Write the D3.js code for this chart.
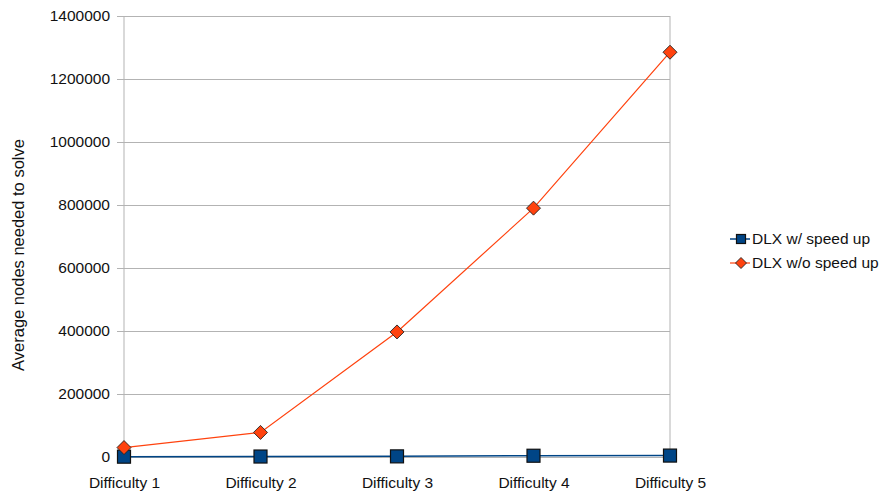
<!DOCTYPE html>
<html>
<head>
<meta charset="utf-8">
<script src="https://cdn.jsdelivr.net/npm/d3@7"></script>
<style>
  html, body { margin: 0; padding: 0; background: #fff; }
  svg { display: block; font-family: "Liberation Sans", Arial, sans-serif; }
</style>
</head>
<body>
<svg id="chart" width="885" height="494"></svg>
<script>
// Categories and series
const categories = ["Difficulty 1", "Difficulty 2", "Difficulty 3", "Difficulty 4", "Difficulty 5"];
const withSpeedUp = [1000, 1500, 2000, 4000, 4500];
const withoutSpeedUp = [30000, 78000, 397000, 790000, 1285000];
const yTicks = [0, 200000, 400000, 600000, 800000, 1000000, 1200000, 1400000];
const seriesNames = ["DLX w/ speed up", "DLX w/o speed up"];

const svg = d3.select("#chart");
const plotL = 124, plotR = 670, plotT = 16, plotB = 457;
const fontSize = 15.5;

const x = d3.scalePoint().domain(categories).range([plotL, plotR]);
const y = d3.scaleLinear().domain([0, 1400000]).range([plotB, plotT]);

const gridColor = "#b3b3b3";

// Horizontal gridlines with outward tick stubs
const yAxis = d3.axisLeft(y).tickValues(yTicks).tickFormat(d3.format("d"))
  .tickSize(-(plotR - plotL)).tickSizeOuter(0).tickPadding(14);
const gy = svg.append("g").attr("transform", `translate(${plotL},0)`).call(yAxis);
gy.select(".domain").remove();
gy.selectAll(".tick line").attr("stroke", gridColor).attr("x1", -7);
gy.selectAll(".tick text").attr("font-size", fontSize).attr("fill", "#111");

// Plot frame: left axis and right edge
svg.append("line").attr("x1", plotL).attr("x2", plotL).attr("y1", plotT).attr("y2", plotB + 6).attr("stroke", gridColor);
svg.append("line").attr("x1", plotR).attr("x2", plotR).attr("y1", plotT).attr("y2", plotB).attr("stroke", gridColor);

// Category axis
const xAxis = d3.axisBottom(x).tickSize(5).tickSizeOuter(0).tickPadding(15);
const gx = svg.append("g").attr("transform", `translate(0,${plotB})`).call(xAxis);
gx.select(".domain").attr("stroke", gridColor);
gx.selectAll(".tick line").attr("stroke", gridColor);
gx.selectAll(".tick text").attr("font-size", fontSize).attr("fill", "#111");

// Y axis title
svg.append("text")
  .attr("transform", `translate(18,255) rotate(-90)`)
  .attr("text-anchor", "middle").attr("dy", "0.35em")
  .attr("font-size", 16.5).attr("fill", "#111")
  .text("Average nodes needed to solve");

const line = d3.line().x((d, i) => x(categories[i])).y(d => y(d));

const blue = "#004586", orange = "#ff420e";

// Series without speed up (diamonds)
svg.append("path").datum(withoutSpeedUp).attr("d", line)
  .attr("fill", "none").attr("stroke", orange).attr("stroke-width", 1.2);
// Series with speed up (squares)
svg.append("path").datum(withSpeedUp).attr("d", line)
  .attr("fill", "none").attr("stroke", blue).attr("stroke-width", 1.5);

function diamond(g, cx, cy, r) {
  g.append("path")
    .attr("d", `M${cx},${cy - r}L${cx + r},${cy}L${cx},${cy + r}L${cx - r},${cy}Z`)
    .attr("fill", orange).attr("stroke", "#222").attr("stroke-width", 0.9);
}
function square(g, cx, cy, s) {
  g.append("rect").attr("x", cx - s / 2).attr("y", cy - s / 2).attr("width", s).attr("height", s)
    .attr("fill", blue).attr("stroke", "#111").attr("stroke-width", 1.2);
}

const markers = svg.append("g");
withSpeedUp.forEach((v, i) => square(markers, x(categories[i]), y(v), 13));
withoutSpeedUp.forEach((v, i) => diamond(markers, x(categories[i]), y(v), 7));

// Legend
const lg = svg.append("g");
const legendY = [239, 263];
lg.append("line").attr("x1", 730).attr("x2", 750).attr("y1", legendY[0]).attr("y2", legendY[0]).attr("stroke", blue).attr("stroke-width", 1.5);
square(lg, 741, legendY[0], 9);
lg.append("line").attr("x1", 730).attr("x2", 750).attr("y1", legendY[1]).attr("y2", legendY[1]).attr("stroke", orange).attr("stroke-width", 1.2);
diamond(lg, 741, legendY[1], 5.5);
seriesNames.forEach((n, i) => {
  lg.append("text").attr("x", 752).attr("y", legendY[i]).attr("dy", "0.35em")
    .attr("font-size", fontSize).attr("fill", "#111").text(n);
});
</script>
</body>
</html>
